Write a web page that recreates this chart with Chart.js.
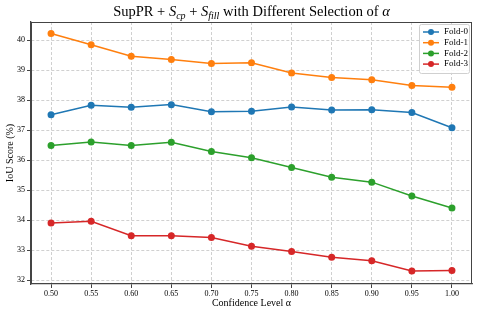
<!DOCTYPE html>
<html>
<head>
<meta charset="utf-8">
<script src="https://cdn.jsdelivr.net/npm/chart.js@4"></script>
<style>
  html, body { margin: 0; padding: 0; background: #fff; }
  #wrap { width: 479px; height: 315px; position: relative; }
</style>
</head>
<body>
<div id="wrap"><canvas id="iouChart"></canvas></div>
<script>
// data
const alphas = [0.50, 0.55, 0.60, 0.65, 0.70, 0.75, 0.80, 0.85, 0.90, 0.95, 1.00];
const fold0 = [37.51, 37.83, 37.76, 37.85, 37.61, 37.63, 37.77, 37.67, 37.68, 37.59, 37.08];
const fold1 = [40.22, 39.84, 39.46, 39.35, 39.22, 39.24, 38.90, 38.75, 38.68, 38.49, 38.43];
const fold2 = [36.49, 36.61, 36.49, 36.60, 36.29, 36.08, 35.76, 35.43, 35.27, 34.81, 34.41];
const fold3 = [33.91, 33.97, 33.49, 33.49, 33.43, 33.14, 32.96, 32.77, 32.65, 32.31, 32.33];
const seriesNames = ["Fold-0", "Fold-1", "Fold-2", "Fold-3"];
const seriesColors = ["#1f77b4", "#ff7f0e", "#2ca02c", "#d62728"];
const xTicks = [0.50, 0.55, 0.60, 0.65, 0.70, 0.75, 0.80, 0.85, 0.90, 0.95, 1.00];
const yTicks = [32, 33, 34, 35, 36, 37, 38, 39, 40];

const serif = "'Liberation Serif', 'DejaVu Serif', serif";

document.addEventListener("DOMContentLoaded", function () {
    const ctx = document.getElementById("iouChart").getContext("2d");
    const allSeries = [fold0, fold1, fold2, fold3];

    const datasets = allSeries.map((vals, i) => ({
        label: seriesNames[i],
        data: vals.map((v, j) => ({ x: alphas[j], y: v })),
        borderColor: seriesColors[i],
        backgroundColor: seriesColors[i],
        borderWidth: 1.5,
        pointRadius: 3.5,
        pointBorderWidth: 0,
        pointHoverRadius: 3.5,
        tension: 0
    }));

    // frame, title with sub/italics, legend box
    const extras = {
        id: "extras",
        afterDraw(chart) {
            const c = chart.ctx;
            const a = chart.chartArea;
            c.save();
            // top / right spines
            c.strokeStyle = "#444";
            c.lineWidth = 1;
            c.strokeRect(a.left + 0.5, a.top + 0.5, a.right - a.left - 1, a.bottom - a.top - 1);

            // title
            const parts = [
                ["SupPR + ", "normal", 14.5, 0],
                ["S", "italic", 14.5, 0],
                ["cp", "italic", 10, 3],
                [" + ", "normal", 14.5, 0],
                ["S", "italic", 14.5, 0],
                ["fill", "italic", 10, 3],
                [" with Different Selection of ", "normal", 14.5, 0],
                ["\u03B1", "italic", 14.5, 0]
            ];
            let total = 0;
            parts.forEach(p => {
                c.font = p[1] + " " + p[2] + "px " + serif;
                total += c.measureText(p[0]).width;
            });
            let x = (a.left + a.right) / 2 - total / 2;
            c.fillStyle = "#000";
            c.textBaseline = "alphabetic";
            c.textAlign = "left";
            parts.forEach(p => {
                c.font = p[1] + " " + p[2] + "px " + serif;
                c.fillText(p[0], x, 16 + p[3]);
                x += c.measureText(p[0]).width;
            });

            // legend
            const bw = 50, bh = 49;
            const bx = a.right - bw - 3, by = a.top + 2;
            c.fillStyle = "rgba(255,255,255,0.85)";
            c.strokeStyle = "#d0d0d0";
            c.lineWidth = 1;
            c.beginPath();
            c.roundRect(bx + 0.5, by + 0.5, bw, bh, 2);
            c.fill();
            c.stroke();
            c.font = "9px " + serif;
            c.textBaseline = "middle";
            seriesNames.forEach((name, i) => {
                const yy = by + 8 + i * 10.7;
                c.strokeStyle = seriesColors[i];
                c.fillStyle = seriesColors[i];
                c.lineWidth = 1.5;
                c.beginPath();
                c.moveTo(bx + 4, yy);
                c.lineTo(bx + 20, yy);
                c.stroke();
                c.beginPath();
                c.arc(bx + 12, yy, 3, 0, Math.PI * 2);
                c.fill();
                c.fillStyle = "#000";
                c.fillText(name, bx + 25, yy);
            });
            c.restore();
        }
    };

    new Chart(ctx, {
        type: "line",
        data: { datasets: datasets },
        options: {
            responsive: true,
            maintainAspectRatio: false,
            animation: false,
            layout: { padding: { left: 0, right: 7, top: 22, bottom: 0 } },
            plugins: {
                legend: { display: false },
                title: { display: false },
                tooltip: { enabled: false }
            },
            scales: {
                x: {
                    type: "linear",
                    min: 0.475,
                    max: 1.025,
                    afterBuildTicks: s => { s.ticks = xTicks.map(v => ({ value: v })); },
                    afterFit: s => { s.height = 31; },
                    ticks: {
                        font: { family: serif, size: 8 },
                        color: "#000",
                        padding: 1,
                        maxRotation: 0,
                        autoSkip: false,
                        callback: v => v.toFixed(2)
                    },
                    grid: { color: "#c4c4c4", lineWidth: 0.8, tickLength: 4, tickColor: "#444", tickWidth: 1 },
                    border: { display: true, color: "#444", width: 1.3, dash: [3, 2] },
                    title: {
                        display: true,
                        text: "Confidence Level \u03B1",
                        font: { family: serif, size: 10 },
                        color: "#000",
                        padding: { top: 0, bottom: 6 }
                    }
                },
                y: {
                    min: 31.88,
                    max: 40.6,
                    afterBuildTicks: s => { s.ticks = yTicks.map(v => ({ value: v })); },
                    afterFit: s => { s.width = 31; },
                    ticks: {
                        font: { family: serif, size: 8 },
                        color: "#000",
                        padding: 2
                    },
                    grid: { color: "#c4c4c4", lineWidth: 0.8, tickLength: 4, tickColor: "#444", tickWidth: 1 },
                    border: { display: true, color: "#444", width: 1.3, dash: [3, 2] },
                    title: {
                        display: true,
                        text: "IoU Score (%)",
                        font: { family: serif, size: 10 },
                        color: "#000",
                        padding: { top: 4, bottom: 0 }
                    }
                }
            }
        },
        plugins: [extras]
    });
});
</script>
</body>
</html>
